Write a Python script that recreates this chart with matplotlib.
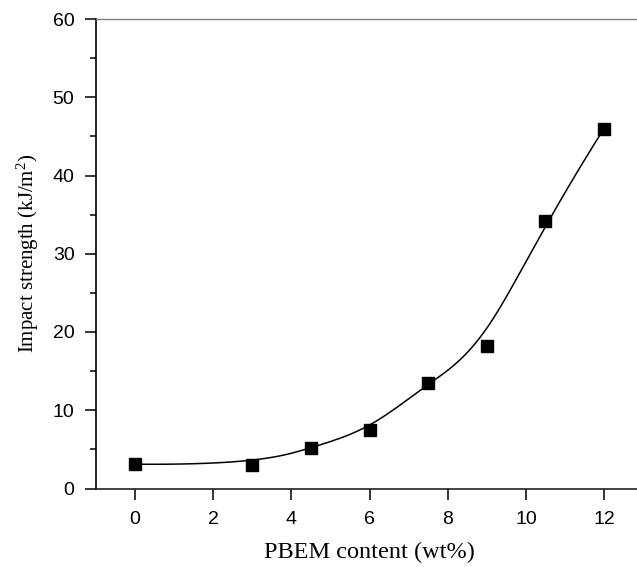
import numpy as np
import matplotlib
matplotlib.use("Agg")
import matplotlib.pyplot as plt
from matplotlib.ticker import MultipleLocator

pbem = [0, 3, 4.5, 6, 7.5, 9, 10.5, 12]
impact = [3.1, 3.0, 5.2, 7.5, 13.5, 18.2, 34.2, 46.0]
xticks = [0, 2, 4, 6, 8, 10, 12]
yticks = [0, 10, 20, 30, 40, 50, 60]

plt.rcParams['mathtext.fontset'] = 'custom'
plt.rcParams['mathtext.rm'] = 'Liberation Serif'
plt.rcParams['mathtext.it'] = 'Liberation Serif:italic'


def bspline(px, py, n=400):
    """Clamped cubic B-spline using the data points as control points."""
    P = np.column_stack([px, py]).astype(float)
    m = len(P); k = 3
    knots = np.concatenate([np.zeros(k), np.arange(m - k + 1), np.full(k, m - k)]).astype(float)
    ts = np.linspace(0, m - k, n)
    out = []
    for t in ts:
        i = min(np.searchsorted(knots, t, side='right') - 1, m - 1)
        d = [P[j].copy() for j in range(i - k, i + 1)]
        for r in range(1, k + 1):
            for j in range(k, r - 1, -1):
                idx = j + i - k
                den = knots[idx + k + 1 - r] - knots[idx]
                a = 0 if den == 0 else (t - knots[idx]) / den
                d[j] = (1 - a) * d[j - 1] + a * d[j]
        out.append(d[k])
    out = np.array(out)
    return out[:, 0], out[:, 1]


fig = plt.figure(figsize=(6.37, 5.67), dpi=100)
ax = fig.add_axes([96 / 637, 1 - 488.5 / 567, (39.08 * 14) / 637, (488.5 - 19) / 567])

xs, ys = bspline(pbem, impact)
ax.plot(xs, ys, color='black', lw=1.1)
ax.plot(pbem, impact, 's', color='black', markersize=9)

ax.set_xlim(-1, 13)
ax.set_ylim(0, 60)
ax.set_xticks(xticks)
ax.set_yticks(yticks)
ax.yaxis.set_minor_locator(MultipleLocator(5))
ax.tick_params(axis='both', which='major', direction='out', length=8, width=1.1,
               labelsize=14)
ax.tick_params(axis='x', which='major', pad=8)
ax.tick_params(axis='y', which='major', pad=7.5)
ax.tick_params(axis='y', which='minor', direction='out', length=4.5, width=1.1)
for lab in ax.get_xticklabels() + ax.get_yticklabels():
    lab.set_fontfamily('Liberation Sans')
ax.spines['right'].set_visible(False)
ax.spines['top'].set_color('#808080')
ax.spines['top'].set_linewidth(1.0)
ax.spines['left'].set_linewidth(1.2)
ax.spines['bottom'].set_linewidth(1.2)
ax.spines['bottom'].set_color('#222222')

ax.set_xlabel('PBEM content (wt%)', fontfamily='Liberation Serif', fontsize=17.5, labelpad=10)
ax.set_ylabel('Impact strength (kJ/m$^2$)', fontfamily='Liberation Serif', fontsize=15, labelpad=8)

fig.savefig('out.png', dpi=100)
